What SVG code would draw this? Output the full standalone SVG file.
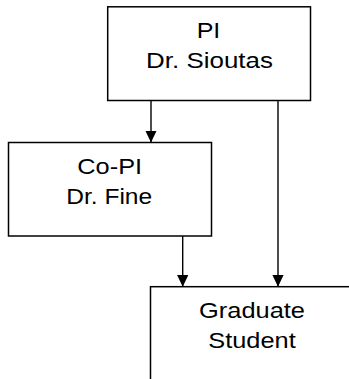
<svg xmlns="http://www.w3.org/2000/svg" width="349" height="379" viewBox="0 0 349 379">
<style>
.box{fill:#fff;stroke:#000;stroke-width:1.5}
.lbl{font-family:"Liberation Sans",Arial,sans-serif;font-size:22px;fill:#000;text-anchor:middle}
.con{stroke:#000;stroke-width:1.4;fill:none}
</style>
<defs>
<marker id="ah" markerUnits="userSpaceOnUse" markerWidth="12" markerHeight="11.5" refX="12" refY="5.75" orient="auto" viewBox="0 0 12 11.5">
<path d="M0,0 L12,5.75 L0,11.5 Z" fill="#000"/>
</marker>
</defs>
<rect width="349" height="379" fill="#fff"/>
<g id="connectors">
<line class="con" x1="151" y1="100.5" x2="151" y2="142.5" marker-end="url(#ah)"/>
<line class="con" x1="278" y1="100.5" x2="278" y2="286.7" marker-end="url(#ah)"/>
<line class="con" x1="182.7" y1="236" x2="182.7" y2="286.7" marker-end="url(#ah)"/>
</g>
<g id="pi">
<rect class="box" x="107.7" y="6.8" width="202.8" height="93.7"/>
<text class="lbl" x="208.5" y="38" textLength="23.7" lengthAdjust="spacingAndGlyphs">PI</text>
<text class="lbl" x="209.5" y="68" textLength="126.8" lengthAdjust="spacingAndGlyphs">Dr. Sioutas</text>
</g>
<g id="copi">
<rect class="box" x="8.5" y="142.5" width="203" height="93.5"/>
<text class="lbl" x="109.7" y="174" textLength="64.8" lengthAdjust="spacingAndGlyphs">Co-PI</text>
<text class="lbl" x="109.2" y="203.5" textLength="86" lengthAdjust="spacingAndGlyphs">Dr. Fine</text>
</g>
<g id="grad">
<rect class="box" x="150.5" y="286.7" width="203" height="120"/>
<text class="lbl" x="252" y="318.3" textLength="105.9" lengthAdjust="spacingAndGlyphs">Graduate</text>
<text class="lbl" x="252" y="348.3" textLength="87.4" lengthAdjust="spacingAndGlyphs">Student</text>
</g>
</svg>
